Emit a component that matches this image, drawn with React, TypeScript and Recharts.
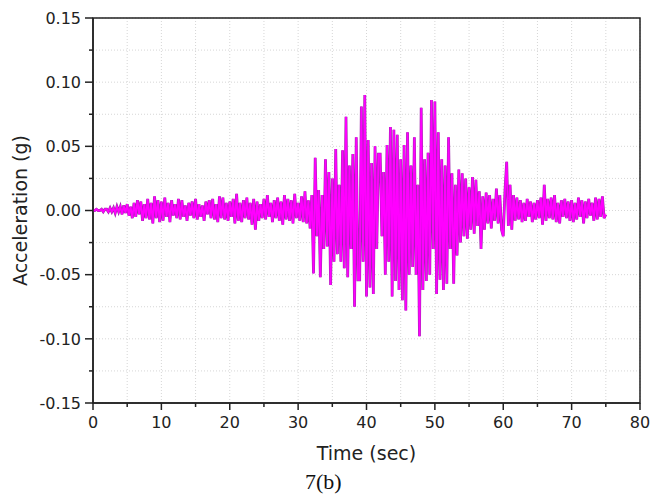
import {
  LineChart,
  Line,
  XAxis,
  YAxis,
  CartesianGrid,
  ReferenceArea,
} from 'recharts'

const SAMPLE_STEP = 0.25

// Aceleración en milésimas de g, una fila por segundo (4 muestras por fila)
const accelRowsMilliG: number[][] = [
  [0, 0, 1, 0],
  [0, 1, -1, 1],
  [1, -1, 2, -1],
  [2, -2, 3, -1],
  [3, -3, 4, -2],
  [5, -4, 3, -6],
  [6, -5, 8, -3],
  [7, -8, 5, -6],
  [9, -7, 6, -10],
  [11, -6, 8, -9],
  [7, -8, 10, -5],
  [6, -9, 8, -4],
  [5, -6, 9, -7],
  [8, -5, 4, -8],
  [6, -4, 7, -6],
  [9, -7, 5, -5],
  [4, -8, 7, -3],
  [8, -6, 9, -7],
  [5, -9, 11, -6],
  [10, -7, 6, -8],
  [7, -5, 9, -10],
  [13, -8, 6, -9],
  [8, -6, 10, -7],
  [6, -11, 9, -15],
  [7, -8, 5, -6],
  [9, -7, 12, -5],
  [6, -9, 8, -6],
  [10, -8, 7, -11],
  [12, -7, 9, -8],
  [8, -10, 13, -6],
  [6, -8, 11, -9],
  [15, -10, 8, -14],
  [12, -49, 41, -20],
  [16, -52, 12, -30],
  [40, -28, 30, -58],
  [25, -40, 48, -34],
  [20, -40, 47, -45],
  [73, -52, 35, -30],
  [44, -75, 57, -54],
  [-54, 81, -40, 90],
  [-67, 55, -60, 37],
  [-65, 50, -30, 44],
  [44, -20, 30, -50],
  [51, -40, 65, -67],
  [63, -55, 59, -62],
  [40, -70, 51, -78],
  [61, -50, 35, -44],
  [57, -50, 20, -98],
  [80, -62, 40, -55],
  [45, -50, 86, -30],
  [85, -65, 61, -54],
  [40, -62, 35, -57],
  [57, -30, 29, -57],
  [20, -35, 32, -25],
  [29, -20, 25, -22],
  [18, -15, 26, -18],
  [24, -12, 15, -30],
  [11, -15, 14, -10],
  [12, -14, 9, -8],
  [17, -10, 12, -15],
  [-20, 15, 38, -12],
  [20, -15, 12, -8],
  [10, -7, 8, -9],
  [6, -8, 9, -5],
  [7, -9, 6, -7],
  [8, -6, 10, -11],
  [20, -8, 9, -6],
  [10, -7, 12, -9],
  [6, -10, 8, -5],
  [9, -6, 7, -8],
  [8, -9, 6, -7],
  [10, -5, 8, -10],
  [7, -6, 9, -4],
  [6, -8, 10, -7],
  [9, -5, 11, -6],
  [-3],
]

const xTicks = [0, 5, 10, 15, 20, 25, 30, 35, 40, 45, 50, 55, 60, 65, 70, 75, 80]
const yTicks = [
  -0.15, -0.125, -0.1, -0.075, -0.05, -0.025, 0, 0.025, 0.05, 0.075, 0.1, 0.125, 0.15,
]

const data = accelRowsMilliG.flat().map((v, i) => ({ t: i * SAMPLE_STEP, a: v / 1000 }))

const TICK_FONT = '"DejaVu Sans", sans-serif'
const INK = '#222'

function YTick({ x, y, payload }: any) {
  const v = payload.value as number
  const major = Math.round(Math.abs(v) * 1000) % 50 === 0
  return (
    <g>
      <line x1={x - (major ? 8 : 4)} y1={y} x2={x} y2={y} stroke={INK} strokeWidth={1.5} />
      {major && (
        <text
          x={x - 12}
          y={y}
          dy="0.36em"
          textAnchor="end"
          fontSize={16}
          fontFamily={TICK_FONT}
          fill={INK}
        >
          {v.toFixed(2)}
        </text>
      )}
    </g>
  )
}

function XTick({ x, y, payload }: any) {
  const v = payload.value as number
  const major = v % 10 === 0
  return (
    <g>
      <line x1={x} y1={y} x2={x} y2={y + (major ? 7 : 4)} stroke={INK} strokeWidth={1.5} />
      {major && (
        <text
          x={x}
          y={y + 25}
          textAnchor="middle"
          fontSize={16}
          fontFamily={TICK_FONT}
          fill={INK}
        >
          {v}
        </text>
      )}
    </g>
  )
}

export default function App() {
  return (
    <div
      style={{
        position: 'absolute',
        left: 0,
        top: 0,
        width: 654,
        height: 495,
        background: '#fff',
      }}
    >
      <LineChart
        width={654}
        height={495}
        data={data}
        margin={{ top: 18, right: 14, left: 0, bottom: 30 }}
      >
        <CartesianGrid stroke="#d6d6d6" strokeDasharray="1 2" />
        <XAxis
          dataKey="t"
          type="number"
          domain={[0, 80]}
          ticks={xTicks}
          interval={0}
          height={62}
          tickSize={0}
          tickMargin={0}
          tickLine={false}
          axisLine={{ stroke: INK, strokeWidth: 1.5 }}
          tick={<XTick />}
          label={{
            value: 'Time (sec)',
            position: 'insideBottom',
            offset: 5,
            fontSize: 19,
            fontFamily: TICK_FONT,
            fill: INK,
          }}
        />
        <YAxis
          type="number"
          domain={[-0.15, 0.15]}
          ticks={yTicks}
          interval={0}
          width={93}
          tickSize={0}
          tickMargin={0}
          tickLine={false}
          axisLine={{ stroke: INK, strokeWidth: 1.5 }}
          tick={<YTick />}
          label={{
            value: 'Acceleration (g)',
            angle: -90,
            position: 'insideLeft',
            offset: 20,
            dx: 0,
            fontSize: 19,
            fontFamily: TICK_FONT,
            fill: INK,
            style: { textAnchor: 'middle' },
          }}
        />
        <ReferenceArea
          x1={0}
          x2={80}
          y1={-0.15}
          y2={0.15}
          fill="none"
          stroke={INK}
          strokeWidth={1.5}
        />
        {/* contorno violeta oscuro bajo el trazo magenta, como en el original */}
        <Line
          type="linear"
          dataKey="a"
          stroke="#9a2aa8"
          strokeWidth={2.8}
          dot={false}
          activeDot={false}
          isAnimationActive={false}
        />
        <Line
          type="linear"
          dataKey="a"
          stroke="#ff00ff"
          strokeWidth={1.8}
          dot={false}
          activeDot={false}
          isAnimationActive={false}
        />
      </LineChart>
      <div
        style={{
          position: 'absolute',
          left: 305,
          top: 470,
          fontFamily: '"Liberation Serif", serif',
          fontSize: 22,
          lineHeight: '24px',
          color: '#111',
        }}
      >
        7(b)
      </div>
    </div>
  )
}
